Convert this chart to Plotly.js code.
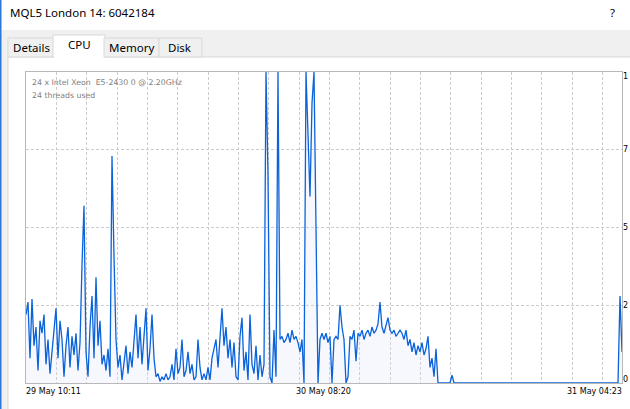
<!DOCTYPE html>
<html>
<head>
<meta charset="utf-8">
<script src="https://cdn.plot.ly/plotly-3.0.1.min.js"></script>
<style>
html,body{margin:0;padding:0;background:#f0f0f0;overflow:hidden;}
#chart{width:630px;height:409px;}
</style>
</head>
<body>
<div id="chart"></div>
<script>
// ---- data ----
const windowTitle = "MQL5 London 14: 6042184";
const tabNames = ["Details", "CPU", "Memory", "Disk"];
const infoLines = ["24 x Intel Xeon \u00a0E5-2430 0 @ 2.20GHz", "24 threads used"];
const spanMinutes = 2532;                 // 29 May 10:11 -> 31 May 04:23
const xTickText = ["29 May 10:11", "30 May 08:20", "31 May 04:23"];
const xTickMinutes = [0, 1329, 2532];
const yTickVals = [0, 25, 50, 75, 100];
// the window edge clips these labels to their first glyph in the reference
const yTickText = ["0", "2", "5", "7", "1"];

// CPU load (%) sampled evenly across the span
const cpuA = [22,26,8,27,12,18,4,20,16,22, 6,14,3,10,17,24,8,20,14,2,
              12,18,5,15,9,16,4,13,38,57, 10,2,18,28,8,34,12,20,6,9];
const cpuB = [4,11,2,73,41,14,5,9,1,7, 12,3,10,5,13,22,8,18,6,15,
              24,4,11,22,8,2,3,0.5,2,1, 3,1,2,6,1,11,3];
const cpuC = [5,14,2,4,10,3,6,1,2,14, 5,1,3,1,5,1,8,11,14,5,
              16,24,12,18,8,14,5,13,2,1, 15,21,4,10,1,22,6];
const cpuD = [3,12,1,9,2,6,100,67,2,0, 17,2,100,14,15,13,14,16,13,17,
              14,15,13,10,14,0,100,80,60,90, 100,50,0];
const cpuE = [14,16,14,16,13,15,0,14,15,14, 25,18,14,0,2,15,14,17,7,16,
              15,17,14,16,17,15,18,16,17,19, 26,18,16,19,21,17,16,17,15,16, 17];
const cpuF = [16,14,17,12,14,10,13,9,12,10, 13,9,11,15,5,8,2,11,0];
const cpuG = [0,0,0,0,0,0,2.5,
              0,0,0,0,0,0,0,0,0,0, 0,0,0,0,0,0,0,0,0,0, 0,0,0,0,0,0,0,0,0,0,
              0,0,0,0,0,0,0,0,0,0, 0,0,0,0,0,0,0,0,0,0, 0,0,0,0,0,0,0,0,0,0,
              0,0,0,0,0,0,0,0,0,0, 0,0,0,0,0,0,0,0,0,0, 0,0,0,
              28,10];
const cpu = [].concat(cpuA, cpuB, cpuC, cpuD, cpuE, cpuF, cpuG);
const sampleStep = spanMinutes / (cpu.length - 1);
const minutes = cpu.map((_, i) => i * sampleStep);

// ---- layout helpers (pixel -> paper) ----
const L = 26, R = 622, T = 72, B = 383;
const px = x => (x - L) / (R - L);
const py = y => (B - y) / (B - T);

const uiFont = {family: "Noto Sans, Open Sans, sans-serif", size: 11.5, color: "#000"};
const smallFont = {family: "DejaVu Sans, sans-serif", size: 8, color: "#000"};

const shapes = [
  {type:"rect", xref:"paper", yref:"paper", x0:px(0), x1:px(640), y0:py(0), y1:py(30),
   fillcolor:"#ffffff", line:{width:0}, layer:"below"},
  {type:"rect", xref:"paper", yref:"paper", x0:px(8), x1:px(640), y0:py(57), y1:py(430),
   fillcolor:"#ffffff", line:{color:"#d9d9d9", width:1}, layer:"below"},
];
const tabEdges = [8, 54, 104, 159, 202];
tabNames.forEach((name, i) => {
  const sel = i === 1;
  shapes.push({type:"rect", xref:"paper", yref:"paper",
    x0:px(tabEdges[i] + (sel ? -1 : 0)), x1:px(tabEdges[i+1] + (sel ? 1 : 0)),
    y0:py(57), y1:py(sel ? 35 : 38),
    fillcolor: sel ? "#ffffff" : "#f0f0f0", line:{color:"#d9d9d9", width:1}, layer:"below"});
  if (sel) shapes.push({type:"rect", xref:"paper", yref:"paper",
    x0:px(tabEdges[i]), x1:px(tabEdges[i+1]), y0:py(58.5), y1:py(55.5),
    fillcolor:"#ffffff", line:{width:0}, layer:"below"});
});
shapes.push({type:"line", xref:"paper", yref:"paper", x0:px(0.75), x1:px(0.75), y0:py(0), y1:py(409),
  line:{color:"#2b78d8", width:1.5}, layer:"below"});

const annotations = [];
annotations.push({text: windowTitle, xref:"paper", yref:"paper", x:px(8), y:py(13),
  xanchor:"left", yanchor:"middle", showarrow:false, font:uiFont});
annotations.push({text: "?", xref:"paper", yref:"paper", x:px(612), y:py(13),
  xanchor:"center", yanchor:"middle", showarrow:false, font:uiFont});
tabNames.forEach((name, i) => {
  annotations.push({text:name, xref:"paper", yref:"paper",
    x:px((tabEdges[i] + tabEdges[i+1]) / 2), y:py(i === 1 ? 45 : 47.5),
    xanchor:"center", yanchor:"middle", showarrow:false, font:uiFont});
});
infoLines.forEach((t, i) => {
  annotations.push({text:t, xref:"paper", yref:"paper", x:px(30), y:py(82 + 13 * i),
    xanchor:"left", yanchor:"middle", showarrow:false,
    font:{family:"DejaVu Sans, sans-serif", size:7.8, color:"#808080"}});
});
xTickText.forEach((t, i) => {
  const anchor = i === 0 ? "left" : (i === xTickText.length - 1 ? "right" : "center");
  annotations.push({text:t, xref:"x", yref:"paper", x:xTickMinutes[i], y:py(391),
    xanchor:anchor, yanchor:"middle", showarrow:false, font:smallFont,
    xshift: i === 0 ? -2 : (i === xTickText.length - 1 ? 2 : -15)});
});
yTickVals.forEach((v, i) => {
  annotations.push({text:yTickText[i], xref:"paper", yref:"y", x:1, y:v,
    xanchor:"left", yanchor:"middle", showarrow:false, font:smallFont,
    xshift:-1, yshift: v === 0 ? 3.5 : (v === 100 ? -4.5 : 0)});
});

const trace = {
  type:"scatter", mode:"lines", x:minutes, y:cpu,
  line:{color:"#0a63da", width:1.3},
  fill:"tozeroy", fillcolor:"rgba(220,220,252,0.22)",
  hoverinfo:"skip"
};

const layout = {
  width:630, height:409,
  margin:{l:L, r:630 - R, t:T, b:409 - B, pad:0},
  paper_bgcolor:"#f0f0f0", plot_bgcolor:"#ffffff",
  showlegend:false,
  xaxis:{range:[0, spanMinutes], showgrid:true, gridcolor:"#cccccc", griddash:"3px,2px", gridwidth:1,
         tick0:0, dtick:128.9, showticklabels:false, ticks:"", zeroline:false,
         showline:true, mirror:true, linecolor:"#b8b8b8", linewidth:1, fixedrange:true},
  yaxis:{range:[0, 100], showgrid:true, gridcolor:"#cccccc", griddash:"3px,2px", gridwidth:1,
         tick0:0, dtick:25, showticklabels:false, ticks:"", zeroline:false, side:"right",
         showline:true, mirror:true, linecolor:"#b8b8b8", linewidth:1, fixedrange:true},
  shapes:shapes,
  annotations:annotations
};

Plotly.newPlot("chart", [trace], layout, {displayModeBar:false, staticPlot:true});
</script>
</body>
</html>
